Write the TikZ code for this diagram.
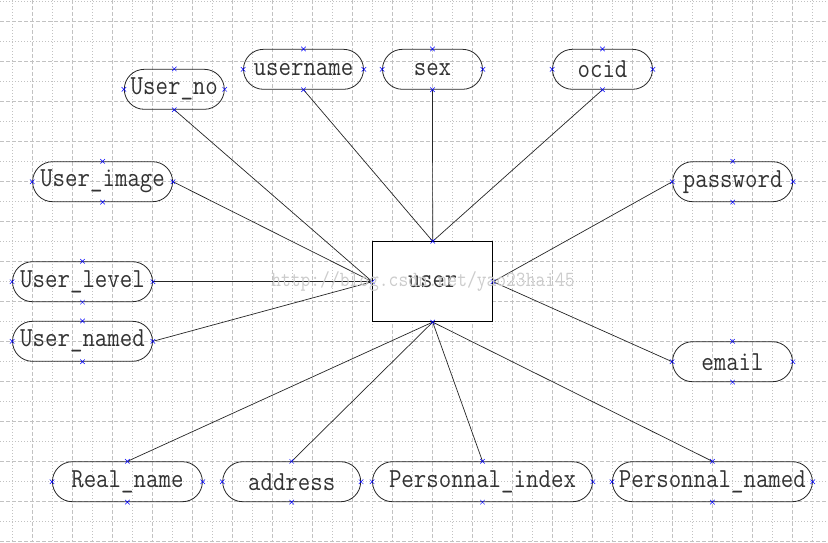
\documentclass[tikz,border=0pt]{standalone}
\usepackage{fontspec}
\setmonofont{Latin Modern Mono}[FakeStretch=0.88]
\usetikzlibrary{shapes.misc}
\begin{document}
\begin{tikzpicture}[x=1pt, y=-1pt,
  griddot/.style={draw=black!24, line width=0.6, dash pattern=on 1pt off 2pt},
  griddash/.style={draw=black!24, line width=0.6, dash pattern=on 4pt off 2pt},
  attr/.style={draw=black!85, rounded corners=20pt, minimum height=40pt, inner sep=0pt,
    text=black!80, font=\ttfamily\fontsize{27.5}{28}\selectfont, line width=0.8},
  entity/.style={draw=black, fill=white, minimum width=120pt, minimum height=80pt,
    inner sep=0pt, text=black!80, font=\ttfamily\fontsize{27}{28}\selectfont, line width=0.8},
  link/.style={draw=black!85, line width=0.7},
  xmark/.style={cross out, draw=blue, line width=0.5, minimum size=4pt, inner sep=0pt}]
\useasboundingbox[fill=white] (0,0) rectangle (828,542);
% Grid {{{
\foreach \gx in {0,...,20} \draw[griddot] (12.7+40*\gx,0) -- (12.7+40*\gx,542) ;
\foreach \gx in {0,...,19} \draw[griddash] (32.7+40*\gx,0) -- (32.7+40*\gx,542) ;
\foreach \gy in {0,...,13} \draw[griddot] (0,1.7+40*\gy) -- (828,1.7+40*\gy) ;
\foreach \gy in {0,...,13} \draw[griddash] (0,21.7+40*\gy) -- (828,21.7+40*\gy) ;
% }}}
% Entity {{{
\node[entity] (usr) at (432.7,281.7) {user} ;
% }}}
% Attributes {{{
\node[attr, minimum width=100pt] (uno) at (174.3,89.3) {User\_no} ;
\node[attr, minimum width=120pt] (uname) at (303.5,69.3) {username} ;
\node[attr, minimum width=100pt] (sex) at (432.5,69.3) {sex} ;
\node[attr, minimum width=100pt] (ocid) at (602.5,69.3) {ocid} ;
\node[attr, minimum width=140pt] (uimg) at (102.6,181.7) {User\_image} ;
\node[attr, minimum width=120pt] (pwd) at (732.7,181.7) {password} ;
\node[attr, minimum width=140pt] (ulvl) at (82.5,281.7) {User\_level} ;
\node[attr, minimum width=140pt] (unmd) at (82.5,341.3) {User\_named} ;
\node[attr, minimum width=120pt] (mail) at (732.5,361.7) {email} ;
\node[attr, minimum width=150pt] (rname) at (127.4,481.7) {Real\_name} ;
\node[attr, minimum width=138pt] (addr) at (291.7,481.7) {address} ;
\node[attr, minimum width=220pt] (pidx) at (482.5,481.7) {Personnal\_index} ;
\node[attr, minimum width=200pt] (pnmd) at (712.4,481.7) {Personnal\_named} ;
% }}}
% Links {{{
\draw[link] (uno.south) -- (usr.west) ;
\draw[link] (uimg.east) -- (usr.west) ;
\draw[link] (ulvl.east) -- (usr.west) ;
\draw[link] (unmd.east) -- (usr.west) ;
\draw[link] (uname.south) -- (usr.north) ;
\draw[link] (sex.south) -- (usr.north) ;
\draw[link] (ocid.south) -- (usr.north) ;
\draw[link] (pwd.west) -- (usr.east) ;
\draw[link] (mail.west) -- (usr.east) ;
\draw[link] (rname.north) -- (usr.south) ;
\draw[link] (addr.north) -- (usr.south) ;
\draw[link] (pidx.north) -- (usr.south) ;
\draw[link] (pnmd.north) -- (usr.south) ;
% }}}
% Connection marks {{{
\foreach \n in {usr,uno,uname,sex,ocid,uimg,pwd,ulvl,unmd,mail,rname,addr,pidx,pnmd}
  \foreach \a in {north,south,east,west}
    \node[xmark] (\n-\a) at (\n.\a) {} ;
% }}}
\node[text=black!20, font=\ttfamily\fontsize{21.6}{22}\selectfont, inner sep=0pt] (wmark) at (423,281.7) {http://blog.csdn.net/yao23hai45} ;
\end{tikzpicture}
\end{document}
